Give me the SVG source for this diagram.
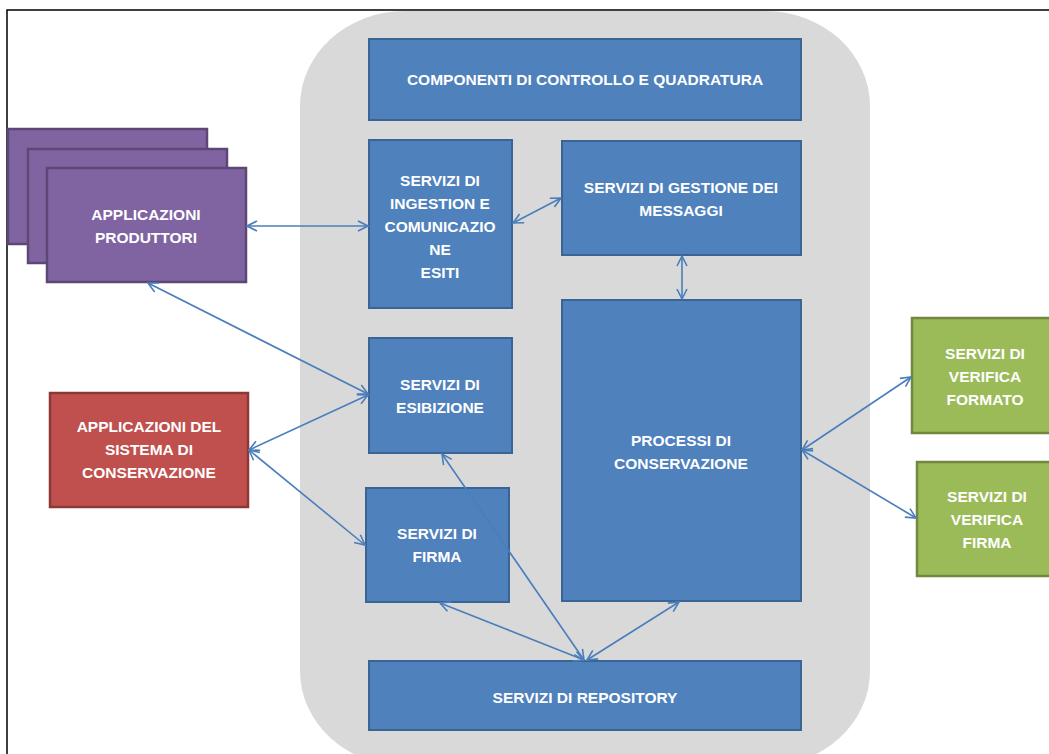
<svg xmlns="http://www.w3.org/2000/svg" width="1049" height="754" viewBox="0 0 1049 754">
<style>
.blue{fill:#4F81BD;stroke:#3A6494;stroke-width:2}
.purple{fill:#8064A2;stroke:#5C4776;stroke-width:2.5}
.red{fill:#C0504D;stroke:#8C3836;stroke-width:2.5}
.green{fill:#9BBB59;stroke:#71893F;stroke-width:2.5}
text{font-family:"Liberation Sans",Arial,sans-serif;font-weight:bold;font-size:15.5px;fill:#FFFFFF;text-anchor:middle}
.conn line{stroke:#4A7EBB;stroke-width:1.6;fill:none;marker-start:url(#ah);marker-end:url(#ah)}
</style>
<defs>
<marker id="ah" viewBox="0 0 12 12" refX="11" refY="6" markerWidth="12" markerHeight="12" markerUnits="userSpaceOnUse" orient="auto-start-reverse">
<path d="M1,1 L11,6 L1,11" fill="none" stroke="#4A7EBB" stroke-width="1.6"/>
</marker>
</defs>
<rect x="0" y="0" width="1049" height="754" fill="#FFFFFF"/>
<path d="M7,754 L7,10 L1049,10" fill="none" stroke="#000000" stroke-width="1.5"/>
<rect id="container" x="300" y="11" width="570" height="755" rx="105" ry="95" fill="#D9D9D9"/>

<g id="componenti"><rect class="blue" x="369" y="39" width="432" height="81"/><text x="585" y="85">COMPONENTI DI CONTROLLO E QUADRATURA</text></g>
<g id="ingestion"><rect class="blue" x="369" y="140" width="143" height="168"/>
<text x="440" y="186">SERVIZI DI</text><text x="440" y="209">INGESTION E</text><text x="440" y="232">COMUNICAZIO</text><text x="440" y="255">NE</text><text x="440" y="278">ESITI</text></g>
<g id="gestione"><rect class="blue" x="562" y="141" width="239" height="114"/>
<text x="681" y="193">SERVIZI DI GESTIONE DEI</text><text x="681" y="216">MESSAGGI</text></g>
<g id="processi"><rect class="blue" x="562" y="300" width="239" height="301"/>
<text x="681" y="446">PROCESSI DI</text><text x="681" y="469">CONSERVAZIONE</text></g>
<g id="esibizione"><rect class="blue" x="369" y="338" width="143" height="115"/>
<text x="440" y="390">SERVIZI DI</text><text x="440" y="413">ESIBIZIONE</text></g>
<g id="firma"><rect class="blue" x="366" y="488" width="143" height="114"/>
<text x="437" y="539">SERVIZI DI</text><text x="437" y="562">FIRMA</text></g>
<g id="repository"><rect class="blue" x="369" y="661" width="432" height="69"/><text x="585" y="703">SERVIZI DI REPOSITORY</text></g>

<g id="produttori">
<rect class="purple" x="8" y="129" width="199" height="115"/>
<rect class="purple" x="28" y="149" width="199" height="114"/>
<rect class="purple" x="47" y="168" width="199" height="114"/>
<text x="146" y="220">APPLICAZIONI</text><text x="146" y="243">PRODUTTORI</text></g>
<g id="sistema"><rect class="red" x="50" y="393" width="198" height="114"/>
<text x="149" y="432">APPLICAZIONI DEL</text><text x="149" y="455">SISTEMA DI</text><text x="149" y="478">CONSERVAZIONE</text></g>
<g id="verifica-formato"><rect class="green" x="912" y="318" width="145" height="115"/>
<text x="985" y="359">SERVIZI DI</text><text x="985" y="382">VERIFICA</text><text x="985" y="405">FORMATO</text></g>
<g id="verifica-firma"><rect class="green" x="917" y="462" width="140" height="114"/>
<text x="987" y="502">SERVIZI DI</text><text x="987" y="525">VERIFICA</text><text x="987" y="548">FIRMA</text></g>

<g id="connectors" class="conn">
<line x1="247" y1="226" x2="368" y2="226"/>
<line x1="513" y1="223" x2="561" y2="198"/>
<line x1="682" y1="256" x2="682" y2="299"/>
<line x1="148" y1="283" x2="368" y2="394"/>
<line x1="249" y1="450" x2="368" y2="395"/>
<line x1="249" y1="450" x2="365" y2="545"/>
<line x1="802" y1="450" x2="911" y2="377"/>
<line x1="802" y1="450" x2="916" y2="518"/>
<line x1="442" y1="454" x2="584" y2="660"/>
<line x1="440" y1="603" x2="584" y2="660"/>
<line x1="679" y1="602" x2="587" y2="660"/>
</g>
</svg>
